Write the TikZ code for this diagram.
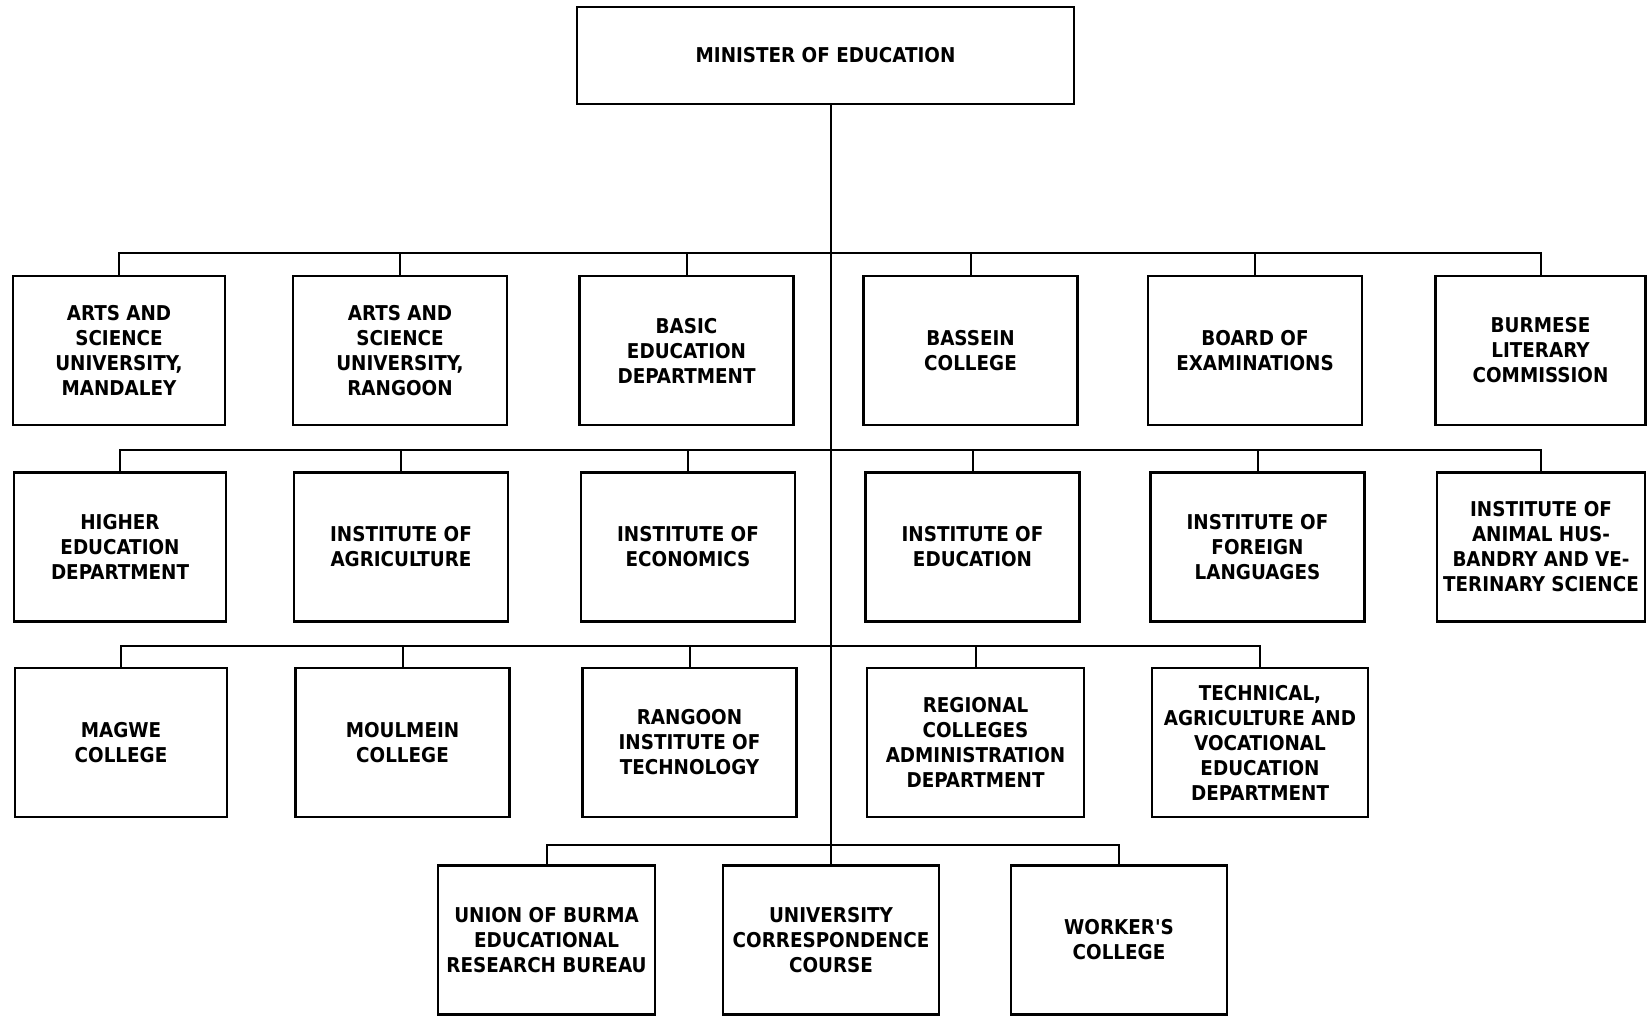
\documentclass[tikz,border=0pt]{standalone}
\usepackage{fontspec}
\setmainfont{DejaVu Sans Condensed}
\usetikzlibrary{positioning}

\tikzset{every picture/.style={line width=0.75pt}}
\tikzset{
  unitbox/.style={draw, line width=1.9pt, rectangle, minimum width=160.5pt, minimum height=111.75pt,
    inner sep=0.75pt, align=center, font=\fontsize{15.3}{18.75}\selectfont\bfseries},
  headbox/.style={unitbox, minimum width=372.75pt, minimum height=72.75pt},
  bus/.style={line width=1.5pt},
  trunk/.style={line width=2.2pt}
}

\begin{document}
\begin{tikzpicture}[x=0.75pt,y=0.75pt,yscale=-1,xscale=1]
\useasboundingbox (0,0) rectangle (1648,1016);

%Shape: Rectangle [head]
\node [headbox] (minister) at (825.5,55.5) {MINISTER OF EDUCATION};

%Shape: Rectangle [row 1]
\node [unitbox, minimum width=159pt] (asum) at (119,350.5) {ARTS AND\\SCIENCE\\UNIVERSITY,\\MANDALEY};
\node [unitbox] (asur) at (400,350.5) {ARTS AND\\SCIENCE\\UNIVERSITY,\\RANGOON};
\node [unitbox] (basic) at (686.5,350.5) {BASIC\\EDUCATION\\DEPARTMENT};
\node [unitbox] (bassein) at (970.5,350.5) {BASSEIN\\COLLEGE};
\node [unitbox] (board) at (1255,350.5) {BOARD OF\\EXAMINATIONS};
\node [unitbox, minimum width=157.5pt] (literary) at (1540.5,350.5) {BURMESE\\LITERARY\\COMMISSION};

%Shape: Rectangle [row 2]
\node [unitbox, minimum width=159pt] (higher) at (120,547) {HIGHER\\EDUCATION\\DEPARTMENT};
\node [unitbox] (agri) at (401,547) {INSTITUTE OF\\AGRICULTURE};
\node [unitbox] (econ) at (688,547) {INSTITUTE OF\\ECONOMICS};
\node [unitbox] (educ) at (972.5,547) {INSTITUTE OF\\EDUCATION};
\node [unitbox] (foreign) at (1257.5,547) {INSTITUTE OF\\FOREIGN\\LANGUAGES};
\node [unitbox, minimum width=156pt, inner sep=0pt] (animal) at (1541,547) {INSTITUTE OF\\ANIMAL HUS-\\BANDRY AND VE-\\TERINARY SCIENCE};

%Shape: Rectangle [row 3]
\node [unitbox, minimum width=159pt] (magwe) at (121,742.5) {MAGWE\\COLLEGE};
\node [unitbox] (moulmein) at (402.5,742.5) {MOULMEIN\\COLLEGE};
\node [unitbox] (rit) at (689.5,742.5) {RANGOON\\INSTITUTE OF\\TECHNOLOGY};
\node [unitbox, minimum width=162.75pt] (regional) at (975.5,742.5) {REGIONAL\\COLLEGES\\ADMINISTRATION\\DEPARTMENT};
\node [unitbox, minimum width=162pt] (technical) at (1260,742.5) {TECHNICAL,\\AGRICULTURE AND\\VOCATIONAL\\EDUCATION\\DEPARTMENT};

%Shape: Rectangle [row 4]
\node [unitbox, minimum width=162.75pt] (research) at (546.5,940) {UNION OF BURMA\\EDUCATIONAL\\RESEARCH BUREAU};
\node [unitbox, minimum width=162pt] (corresp) at (831,940) {UNIVERSITY\\CORRESPONDENCE\\COURSE};
\node [unitbox, minimum width=162pt] (worker) at (1119,940) {WORKER\textquotesingle S\\COLLEGE};

%Straight Lines [bus levels]
\coordinate (busA) at (830,253);
\coordinate (busB) at (830,450);
\coordinate (busC) at (830,646);
\coordinate (busD) at (830,845);

%Straight Lines [trunk]
\draw [trunk] (corresp.north |- minister.south) -- (corresp.north);

%Straight Lines [row 1]
\draw [bus] (asum.north) |- (busA) -| (literary.north);
\draw [bus] (asur.north) -- (asur.north |- busA);
\draw [bus] (basic.north) -- (basic.north |- busA);
\draw [bus] (bassein.north) -- (bassein.north |- busA);
\draw [bus] (board.north) -- (board.north |- busA);

%Straight Lines [row 2]
\draw [bus] (higher.north) |- (busB) -| (animal.north);
\draw [bus] (agri.north) -- (agri.north |- busB);
\draw [bus] (econ.north) -- (econ.north |- busB);
\draw [bus] (educ.north) -- (educ.north |- busB);
\draw [bus] (foreign.north) -- (foreign.north |- busB);

%Straight Lines [row 3]
\draw [bus] (magwe.north) |- (busC) -| (technical.north);
\draw [bus] (moulmein.north) -- (moulmein.north |- busC);
\draw [bus] (rit.north) -- (rit.north |- busC);
\draw [bus] (regional.north) -- (regional.north |- busC);

%Straight Lines [row 4]
\draw [bus] (research.north) |- (busD) -| (worker.north);

\end{tikzpicture}
\end{document}
